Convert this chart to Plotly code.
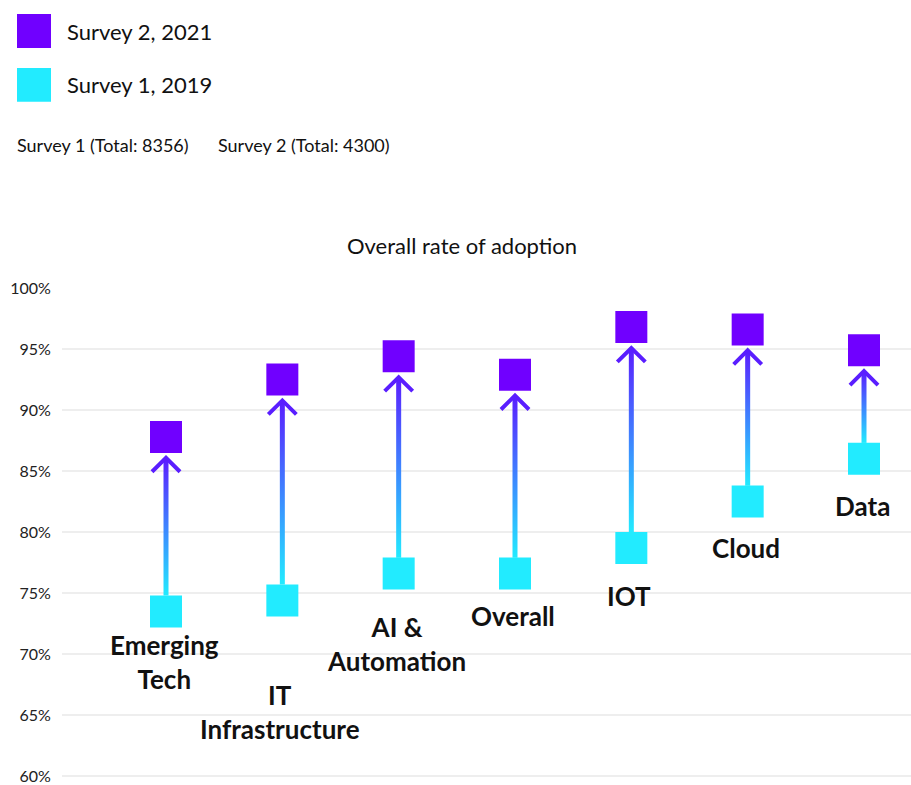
import plotly.graph_objects as go

# ---------------- data ----------------
categories = ["Emerging<br>Tech", "IT<br>Infrastructure", "AI &<br>Automation",
              "Overall", "IOT", "Cloud", "Data"]
survey_2021 = [87.8, 92.5, 94.4, 92.9, 96.8, 96.6, 94.9]
survey_2019 = [73.5, 74.4, 76.6, 76.6, 78.7, 82.5, 86.0]
y_ticks = [60, 65, 70, 75, 80, 85, 90, 95, 100]
y_tick_labels = ["60%", "65%", "70%", "75%", "80%", "85%", "90%", "95%", "100%"]
legend_labels = ["Survey 2, 2021", "Survey 1, 2019"]
totals_text = ["Survey 1 (Total: 8356)", "Survey 2 (Total: 4300)"]
chart_title = "Overall rate of adoption"

# ---------------- style / layout ----------------
W, H = 911, 785
ML, MR, MT, MB = 62, 0, 288, 5
Y_RANGE = [59.85, 100]
X_RANGE = [-0.894, 6.404]
PURPLE = "#7000FF"
CYAN = "#22EBFF"
HEAD = "#5A1EFF"
FONT = "Lato"
SQ = 32  # marker side in px

plot_w = W - ML - MR
plot_h = H - MT - MB
px_y = plot_h / (Y_RANGE[1] - Y_RANGE[0])
px_x = plot_w / (X_RANGE[1] - X_RANGE[0])

def paper_x(px):
    return (px - ML) / plot_w

def paper_y(py):
    return (H - MB - py) / plot_h

# label block centre below cyan square centre (px), per category
label_offsets = [51, 112, 70, 42, 48, 46, 47]

fig = go.Figure()

xs = list(range(len(categories)))

# arrows (shaft with gradient + open chevron head)
for i in xs:
    lo, hi = survey_2019[i], survey_2021[i]
    tip = hi - (SQ / 2 + 5) / px_y
    bottom = lo + (SQ / 2) / px_y
    hw = 2.5 / px_x
    fig.add_trace(go.Scatter(
        x=[i - hw, i + hw, i + hw, i - hw, i - hw],
        y=[bottom, bottom, tip - 1 / px_y, tip - 1 / px_y, bottom],
        mode="lines", fill="toself", line=dict(width=0),
        fillgradient=dict(type="vertical",
                          colorscale=[[0, CYAN], [1, HEAD]]),
        hoverinfo="skip", showlegend=False))
    dx = 14 / px_x
    dy = 14 / px_y
    fig.add_trace(go.Scatter(
        x=[i - dx, i, i + dx], y=[tip - dy, tip, tip - dy],
        mode="lines", line=dict(color=HEAD, width=4),
        hoverinfo="skip", showlegend=False))

# squares
fig.add_trace(go.Scatter(
    x=xs, y=survey_2019, mode="markers", name=legend_labels[1],
    marker=dict(symbol="square", size=SQ, color=CYAN, line=dict(width=0)),
    showlegend=False))
fig.add_trace(go.Scatter(
    x=xs, y=survey_2021, mode="markers", name=legend_labels[0],
    marker=dict(symbol="square", size=SQ, color=PURPLE, line=dict(width=0)),
    showlegend=False))

# category labels
for i, lab in enumerate(categories):
    fig.add_annotation(
        x=i, y=survey_2019[i], xref="x", yref="y",
        text=lab, showarrow=False, xanchor="center", yanchor="middle",
        align="center", yshift=-label_offsets[i], xshift=-2,
        font=dict(family=FONT, size=26, color="#111111", weight="bold"))

# manual legend
leg_cols = [PURPLE, CYAN]
leg_tops = [13, 67]
for col, top, txt in zip(leg_cols, leg_tops, legend_labels):
    fig.add_shape(type="rect", xref="paper", yref="paper",
                  x0=paper_x(17), x1=paper_x(51),
                  y0=paper_y(top + 34), y1=paper_y(top),
                  fillcolor=col, line=dict(width=0))
    fig.add_annotation(xref="paper", yref="paper", x=paper_x(65),
                       y=paper_y(top + 17), text=txt, showarrow=False,
                       xanchor="left", yanchor="middle",
                       font=dict(family=FONT, size=22, color="#111111"))

for xpx, txt in zip([15, 216], totals_text):
    fig.add_annotation(xref="paper", yref="paper", x=paper_x(xpx),
                       y=paper_y(144), text=txt, showarrow=False,
                       xanchor="left", yanchor="middle",
                       font=dict(family=FONT, size=18, color="#111111"))

fig.add_annotation(xref="paper", yref="paper", x=paper_x(462),
                   y=paper_y(245), text=chart_title, showarrow=False,
                   xanchor="center", yanchor="middle",
                   font=dict(family=FONT, size=22, color="#111111"))

fig.update_layout(
    width=W, height=H,
    margin=dict(l=ML, r=MR, t=MT, b=MB),
    paper_bgcolor="white", plot_bgcolor="white",
    showlegend=False,
    font=dict(family=FONT, color="#222222"),
    xaxis=dict(range=X_RANGE, showgrid=False, zeroline=False,
               showticklabels=False, showline=False, fixedrange=True),
    yaxis=dict(range=Y_RANGE, tickvals=y_ticks, ticktext=y_tick_labels,
               showgrid=True, gridcolor="#EEEEEE", gridwidth=1.5,
               zeroline=False, showline=False, ticks="outside",
               ticklen=7, tickcolor="rgba(0,0,0,0)",
               ticklabeloverflow="allow",
               tickfont=dict(family=FONT, size=16, color="#222222"),
               fixedrange=True),
)

fig.write_html("out.html", config={"displayModeBar": False},
               post_script="document.body.style.margin='0';document.body.style.overflow='hidden';")
